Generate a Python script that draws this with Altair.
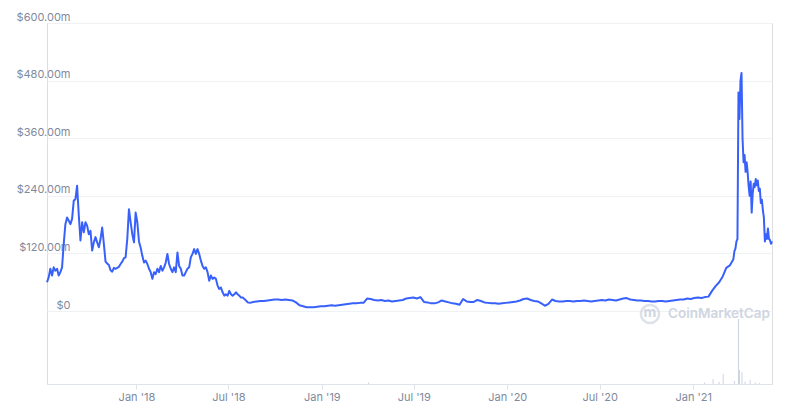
import altair as alt
import pandas as pd

# ---- data ----
# Jul 2017 - Aug 2018, one reading every ~3.3 days
early_start = "2017-07-09"
cap_early = [60, 70, 88, 74, 91, 84, 88, 74, 81, 91,
             140, 181, 195, 188, 181, 192, 230, 233, 261, 200,
             147, 185, 164, 185, 178, 160, 167, 126, 143, 154,
             143, 133, 150, 174, 140, 103, 99, 96, 85, 82,
             90, 88, 90, 92, 98, 103, 110, 112, 150, 212,
             185, 160, 143, 205, 185, 145, 132, 115,
             101, 105, 98, 88, 81, 67, 81, 77, 88, 81,
             94, 84, 91, 101, 119, 98, 88, 81, 91, 81,
             122, 94, 88, 74, 74, 81, 88, 91, 112, 119,
             129, 119, 129, 119, 105, 94, 88, 91, 81, 63,
             74, 67, 70, 67, 53, 46, 49, 39, 32, 35,
             32, 42, 35, 32, 35, 39, 35, 32, 28, 28,
             25, 22, 18]
# Aug 2018 - Mar 2021, weekly readings
mid_start = "2018-08-12"
cap_mid = [17, 19, 20,
           21, 21, 22, 23, 24, 24, 23, 24, 23, 22,
           18, 12, 10, 8, 8, 8, 9, 10, 10, 11,
           12, 11, 12, 13, 14, 15, 16, 16, 17, 17,
           26, 25, 23, 22, 23, 21, 22, 20, 21, 22,
           23, 26, 27, 28, 26, 29, 19, 18, 16, 16,
           18, 22, 20, 18, 16, 15, 13, 25, 20, 19,
           19, 23, 21, 18, 17, 16, 16, 15, 16, 17,
           18, 19, 20, 22, 25, 26, 23, 21, 20, 16,
           11, 15, 24, 21, 20, 20, 21, 21, 20, 21,
           21, 22, 21, 20, 21, 22, 23, 22, 24, 23,
           22, 24, 26, 27, 24, 23, 22, 22, 21, 21,
           20, 20, 21, 21, 20, 21, 22, 23, 24, 24,
           26, 25, 27, 28, 27, 29, 30, 42, 52, 60,
           72, 90, 95, 108]
# Mar - Jun 2021, every 2 days
late_start = "2021-03-23"
cap_late = [125, 130, 145, 150, 455, 400, 480, 496, 360, 310,
            325, 290, 310, 290, 260, 240, 270, 205, 245, 265,
            258, 275, 262, 272, 250, 255, 225, 232, 210, 195,
            145, 160, 150, 172, 150, 148, 140, 145]

vol_dates = ["2019-04-03", "2021-01-23", "2021-02-09", "2021-02-21", "2021-03-01",
             "2021-03-23", "2021-03-31", "2021-04-02", "2021-04-07", "2021-04-13",
             "2021-04-23", "2021-05-03", "2021-05-11"]
vol_values = [15, 15, 50, 20, 100, 30, 650, 140, 120, 25, 40, 15, 10]

y_ticks = [0, 120, 240, 360, 480, 600]
x_ticks = [(2018, 1), (2018, 7), (2019, 1), (2019, 7), (2020, 1), (2020, 7), (2021, 1)]
watermark = ["CoinMarketCap"]

# ---- tables ----
dates = list(pd.date_range(early_start, periods=len(cap_early), freq="79h")) + \
        list(pd.date_range(mid_start, periods=len(cap_mid), freq="7D")) + \
        list(pd.date_range(late_start, periods=len(cap_late), freq="2D"))
line_df = pd.DataFrame({"date": dates, "cap": cap_early + cap_mid + cap_late})
vol_df = pd.DataFrame({"date": pd.to_datetime(vol_dates), "vol": vol_values})

GREY = "#808a9d"
x_scale = alt.Scale(domain=[alt.DateTime(year=2017, month=7, date=9),
                            alt.DateTime(year=2021, month=6, date=5)])

x_axis = alt.Axis(values=[alt.DateTime(year=y, month=m, date=1) for y, m in x_ticks],
                  format="%b '%y", title=None, grid=False,
                  domainColor="#dfe3ec", tickColor="#dfe3ec", tickSize=5,
                  labelColor=GREY, labelFontSize=11, labelPadding=2)

y_axis = alt.Axis(values=y_ticks, title=None, domain=False, ticks=False,
                  grid=True, gridColor="#eff2f5", gridWidth=1,
                  labelExpr="datum.value == 0 ? '$0' : '$' + format(datum.value, '.2f') + 'm'",
                  labelAlign="right", labelBaseline="bottom", labelPadding=-23,
                  labelOffset=-1, labelColor=GREY, labelFontSize=11)

vol = alt.Chart(vol_df).mark_rule(color="#cdd4e2", strokeWidth=1).encode(
    x=alt.X("date:T", scale=x_scale, axis=x_axis),
    y=alt.Y("vol:Q", scale=alt.Scale(domain=[0, 3610], nice=False), axis=None),
    y2=alt.datum(0),
)

wm_df = pd.DataFrame({"t": watermark})
WM = "#cfd5e1"
wm_text = alt.Chart(wm_df).mark_text(
    align="left", baseline="middle", fontSize=13.5, fontWeight=600, color=WM
).encode(x=alt.value(621), y=alt.value(291), text="t:N")
wm_logo = alt.Chart(wm_df).mark_point(
    shape="circle", size=330, filled=False, strokeWidth=2.5, color=WM
).encode(x=alt.value(603), y=alt.value(291))
wm_m = alt.Chart(wm_df).mark_text(
    text="m", fontSize=14, fontWeight=700, color=WM, baseline="middle"
).encode(x=alt.value(603), y=alt.value(290))

line = alt.Chart(line_df).mark_line(color="#3861fb", strokeWidth=2, strokeJoin="round").encode(
    x=alt.X("date:T", scale=x_scale, axis=x_axis),
    y=alt.Y("cap:Q", scale=alt.Scale(domain=[-152, 600], nice=False, zero=False), axis=y_axis),
)

chart = alt.layer(wm_logo, wm_m, wm_text, vol, line).resolve_scale(y="independent").properties(
    width=725, height=361,
    autosize=alt.AutoSizeParams(type="none"),
    padding={"left": 39, "top": 15, "right": 20, "bottom": 18},
).configure_view(strokeWidth=0).configure(font="Inter")

chart.save("out.html", embed_options={"renderer": "svg", "actions": False})
